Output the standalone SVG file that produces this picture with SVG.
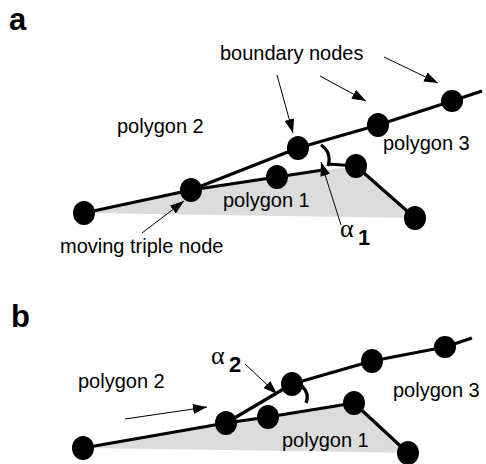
<svg xmlns="http://www.w3.org/2000/svg" width="486" height="464" viewBox="0 0 486 464">
  <defs>
    <marker id="head" viewBox="0 0 14 10" refX="14" refY="5" markerWidth="14" markerHeight="10" markerUnits="userSpaceOnUse" orient="auto">
      <path d="M0,0 L14,5 L0,10 Z" fill="#000"/>
    </marker>
    <style>
      .edge { fill: none; stroke: #000; stroke-width: 3.2; stroke-linejoin: round; }
      .ptr { fill: none; stroke: #000; stroke-width: 1; marker-end: url(#head); }
      .node { fill: #000; }
      .face { fill: #dcdcdc; stroke: none; }
      .lbl { font-family: "Liberation Sans", Arial, sans-serif; font-size: 20px; fill: #000; }
      .tag { font-family: "Liberation Sans", Arial, sans-serif; font-size: 31px; font-weight: bold; fill: #000; }
      .alpha { font-family: "Liberation Serif", "DejaVu Serif", serif; font-size: 26px; fill: #000; }
      .sub { font-family: "Liberation Sans", Arial, sans-serif; font-size: 22px; font-weight: bold; fill: #000; }
    </style>
  </defs>

  <!-- Panel a -->
  <g id="panel-a">
    <text class="tag" x="9" y="30">a</text>
    <polygon id="a-polygon1-face" class="face" points="84,213 191,190 277,177 356,166 415,218"/>
    <g id="a-connectors">
      <polyline class="edge" points="84,213 191,190 277,177 323,170"/>
      <path class="edge" d="M321,145 C327,149 331,156 328,166"/>
      <polyline class="edge" points="328,164 356,166 415,218"/>
      <polyline class="edge" points="191,190 298,148 378,125 452,101 482,91"/>
      <line class="ptr" x1="277" y1="75" x2="293" y2="133"/>
      <line class="ptr" x1="320" y1="76" x2="366" y2="101"/>
      <line class="ptr" x1="384" y1="57" x2="438" y2="83"/>
      <line class="ptr" x1="142" y1="233" x2="184" y2="201"/>
      <line class="ptr" x1="341" y1="225" x2="321" y2="162"/>
    </g>
    <g id="a-node-left"><ellipse class="node" cx="84" cy="213" rx="11" ry="12"/></g>
    <g id="a-node-triple"><ellipse class="node" cx="191" cy="190" rx="11" ry="12"/></g>
    <g id="a-node-p1a"><ellipse class="node" cx="277" cy="177" rx="11" ry="12"/></g>
    <g id="a-node-p1b"><ellipse class="node" cx="356" cy="166" rx="11" ry="12"/></g>
    <g id="a-node-p1c"><ellipse class="node" cx="415" cy="218" rx="11" ry="12"/></g>
    <g id="a-node-b1"><ellipse class="node" cx="298" cy="148" rx="11" ry="12"/></g>
    <g id="a-node-b2"><ellipse class="node" cx="378" cy="125" rx="11" ry="12"/></g>
    <g id="a-node-b3"><ellipse class="node" cx="452" cy="101" rx="11" ry="11"/></g>
    <text class="lbl" x="220" y="60">boundary nodes</text>
    <text class="lbl" x="117" y="133">polygon 2</text>
    <text class="lbl" x="383" y="150">polygon 3</text>
    <text class="lbl" x="223" y="207">polygon 1</text>
    <text class="lbl" x="60" y="253">moving triple node</text>
    <text class="alpha" x="340" y="237">α</text>
    <text class="sub" x="358" y="245">1</text>
  </g>

  <!-- Panel b -->
  <g id="panel-b">
    <text class="tag" x="11" y="327">b</text>
    <polygon id="b-polygon1-face" class="face" points="83,448 226,423 268,417 354,403 408,453 360,452"/>
    <g id="b-connectors">
      <polyline class="edge" points="83,448 226,423 268,417 354,403 408,453"/>
      <polyline class="edge" points="226,423 292,384 372,361 445,347 472,338"/>
      <path class="edge" d="M302,386 C306,390 309,396 306,403"/>
      <line class="ptr" x1="125" y1="419" x2="207" y2="407"/>
      <line class="ptr" x1="245" y1="364" x2="277" y2="394"/>
    </g>
    <g id="b-node-left"><ellipse class="node" cx="83" cy="448" rx="11" ry="12"/></g>
    <g id="b-node-triple"><ellipse class="node" cx="226" cy="423" rx="11" ry="12"/></g>
    <g id="b-node-p1a"><ellipse class="node" cx="268" cy="417" rx="11" ry="12"/></g>
    <g id="b-node-p1b"><ellipse class="node" cx="354" cy="403" rx="11" ry="12"/></g>
    <g id="b-node-p1c"><ellipse class="node" cx="408" cy="453" rx="11" ry="12"/></g>
    <g id="b-node-b1"><ellipse class="node" cx="292" cy="384" rx="11" ry="12"/></g>
    <g id="b-node-b2"><ellipse class="node" cx="372" cy="361" rx="11" ry="12"/></g>
    <g id="b-node-b3"><ellipse class="node" cx="445" cy="347" rx="11" ry="11"/></g>
    <text class="lbl" x="78" y="388">polygon 2</text>
    <text class="lbl" x="393" y="397">polygon 3</text>
    <text class="lbl" x="282" y="447">polygon 1</text>
    <text class="alpha" x="211" y="364">α</text>
    <text class="sub" x="229" y="372">2</text>
  </g>
</svg>
